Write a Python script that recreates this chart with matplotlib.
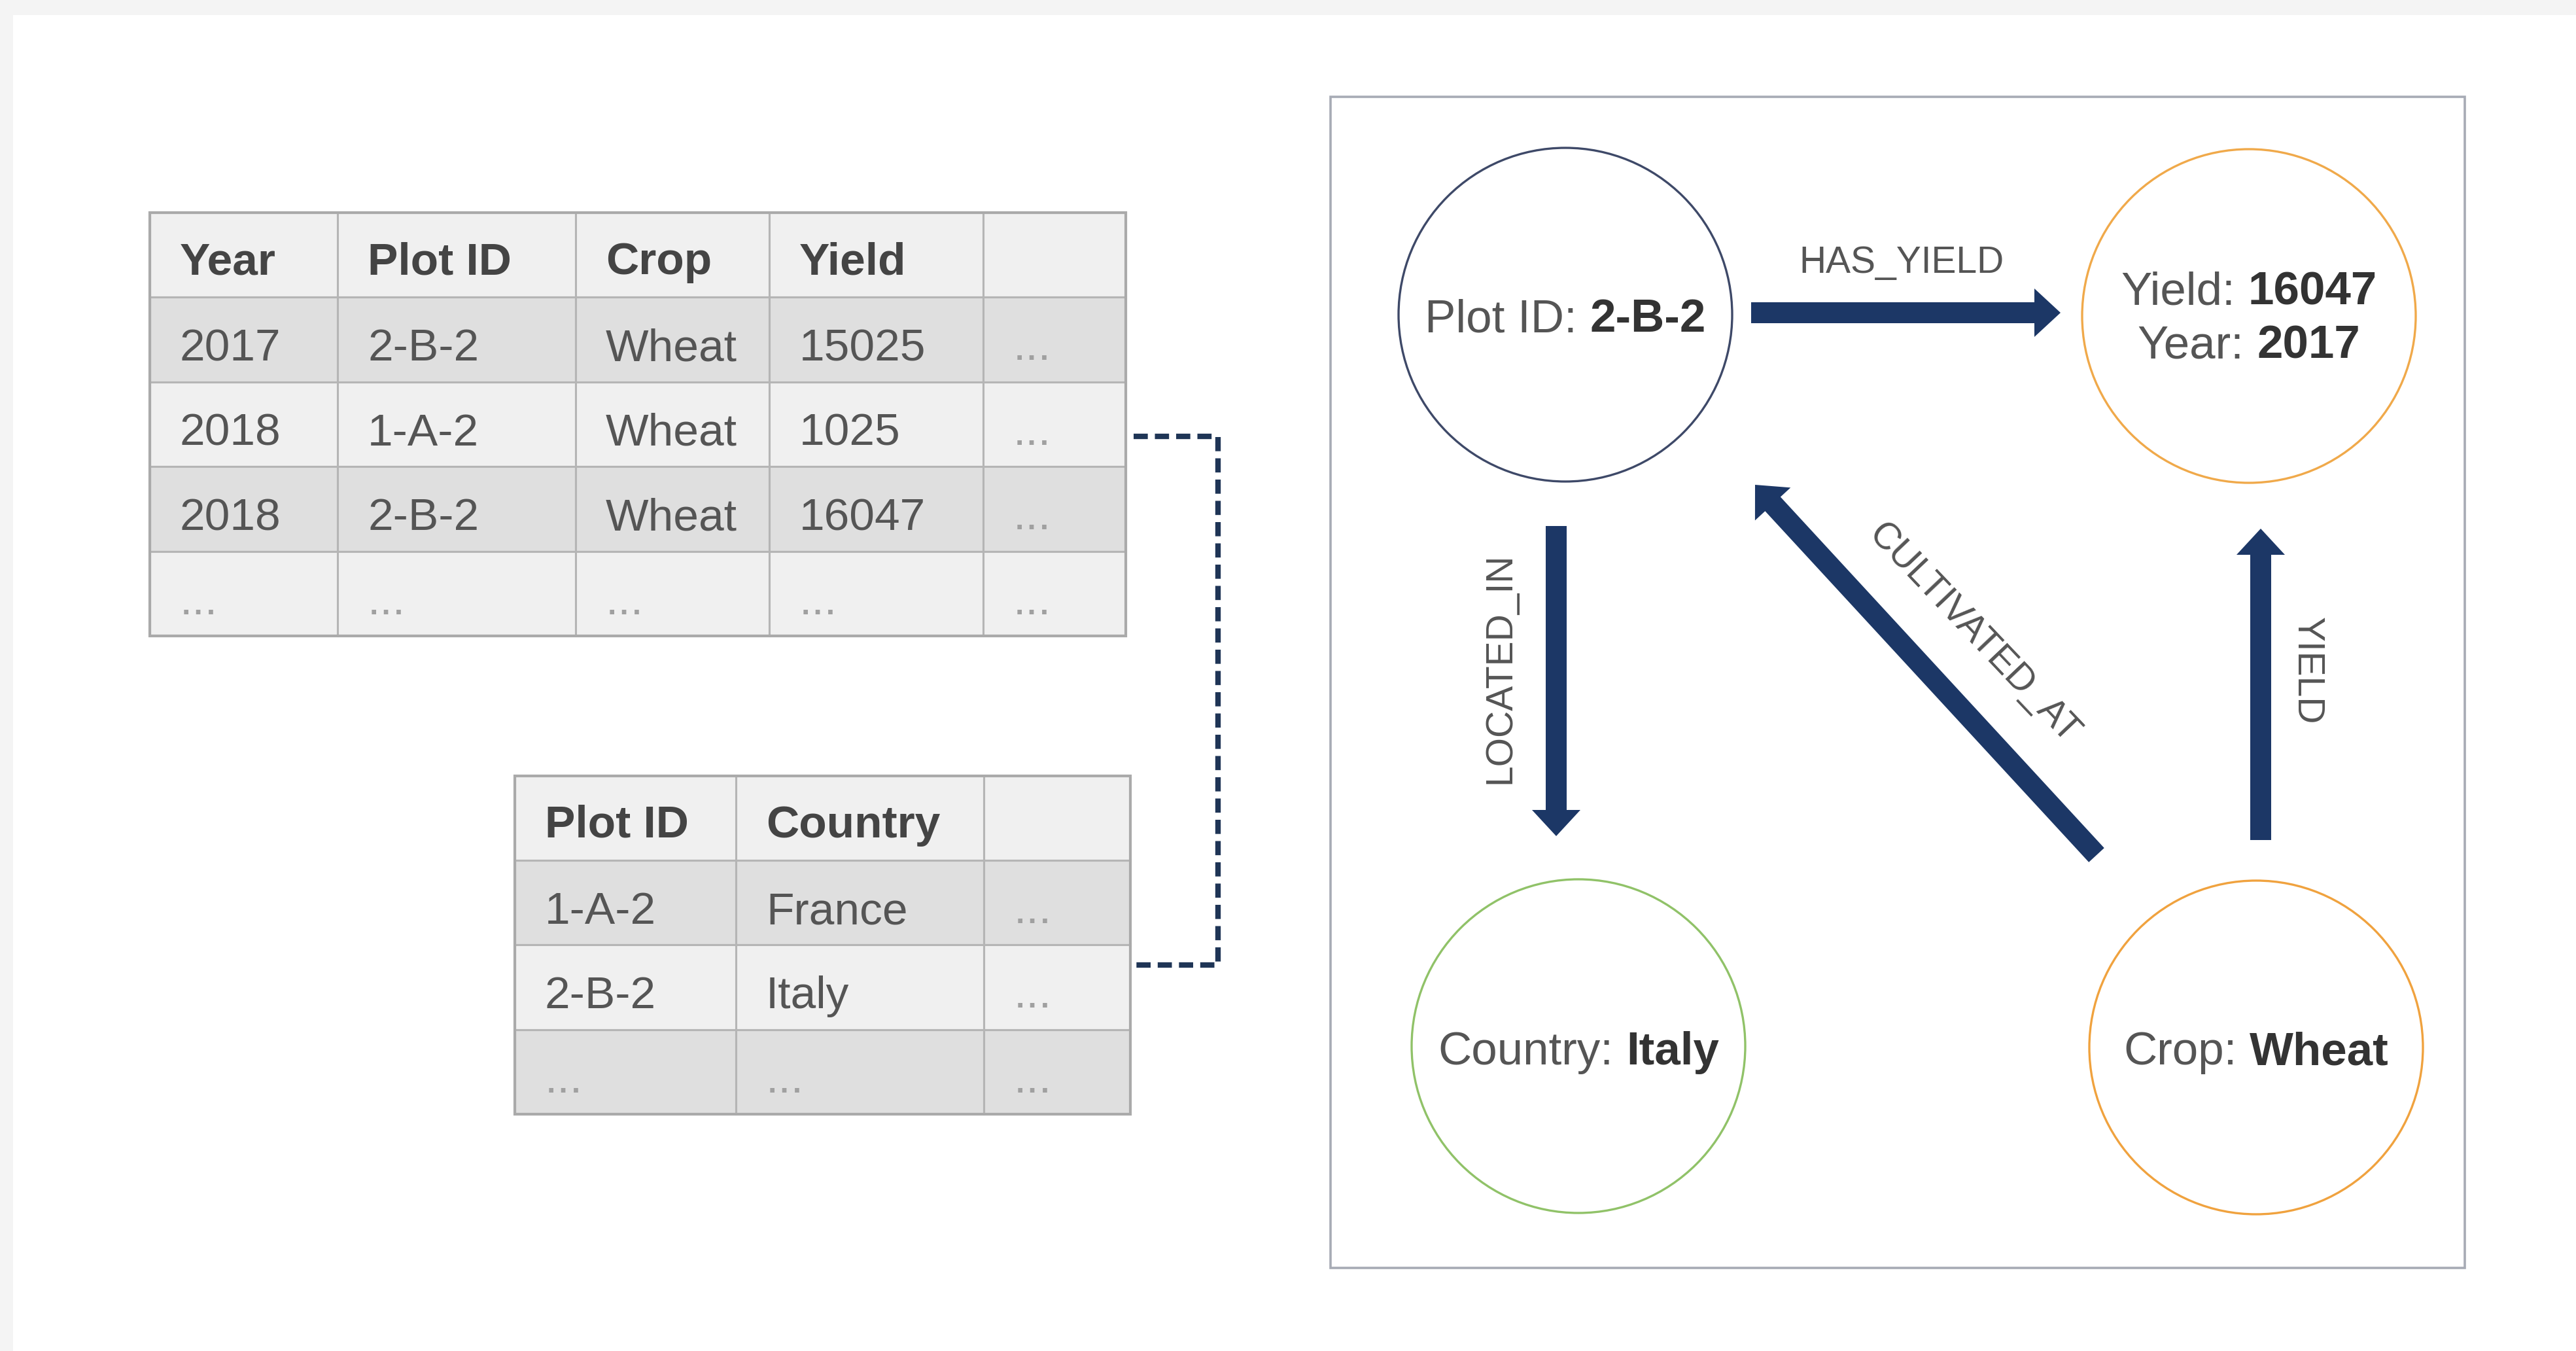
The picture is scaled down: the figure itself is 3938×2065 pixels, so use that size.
import matplotlib
matplotlib.use("Agg")
import matplotlib.pyplot as plt
from matplotlib.patches import Rectangle, Circle

plt.rcParams['font.family'] = ['Liberation Sans', 'DejaVu Sans']

# table contents
t1_cols = ["Year", "Plot ID", "Crop", "Yield", ""]
t1_rows = [["2017", "2-B-2", "Wheat", "15025", "..."],
           ["2018", "1-A-2", "Wheat", "1025", "..."],
           ["2018", "2-B-2", "Wheat", "16047", "..."],
           ["...", "...", "...", "...", "..."]]
t2_cols = ["Plot ID", "Country", ""]
t2_rows = [["1-A-2", "France", "..."],
           ["2-B-2", "Italy", "..."],
           ["...", "...", "..."]]

# graph nodes: (regular part, bold part) per line
node_plot = [("Plot ID:", "2-B-2")]
node_yield = [("Yield:", "16047"), ("Year:", "2017")]
node_country = [("Country:", "Italy")]
node_crop = [("Crop:", "Wheat")]
edge_labels = ["HAS_YIELD", "LOCATED_IN", "CULTIVATED_AT", "YIELD"]

W, H = 3938, 2065
fig = plt.figure(figsize=(W / 100, H / 100), dpi=100)
ax = fig.add_axes([0, 0, 1, 1])
ax.set_xlim(0, W)
ax.set_ylim(H, 0)
ax.axis('off')
renderer = fig.canvas.get_renderer()

# light grey frame on top and left
ax.add_patch(Rectangle((0, 0), W, 23, color='#f4f4f4', lw=0))
ax.add_patch(Rectangle((0, 0), 20, H, color='#f4f4f4', lw=0))

LIGHT = '#f0f0f0'
DARK = '#dfdfdf'
GRID = '#b5b5b5'


def draw_table(xedges, top, rowh, cols, rows, fills):
    allrows = [cols] + rows
    for r, row in enumerate(allrows):
        y0 = top + r * rowh
        for c, val in enumerate(row):
            x0 = xedges[c]
            ax.add_patch(Rectangle((x0, y0), xedges[c + 1] - x0, rowh,
                                   facecolor=fills[r], edgecolor=GRID, lw=2.2))
            if val == "...":
                ax.text(x0 + 46, y0 + 96, "...", fontsize=50, color='#a0a0a0',
                        ha='left', va='baseline')
            elif r == 0:
                ax.text(x0 + 46, y0 + 94, val, fontsize=50, color='#444444',
                        fontweight='bold', ha='left', va='baseline')
            else:
                ax.text(x0 + 46, y0 + 97, val, fontsize=50, color='#555555',
                        ha='left', va='baseline')
    ax.add_patch(Rectangle((xedges[0], top), xedges[-1] - xedges[0],
                           rowh * len(allrows), fill=False,
                           edgecolor='#aaaaaa', lw=3))


draw_table([229, 516, 880, 1176, 1503, 1721], 325, 129.4, t1_cols, t1_rows,
           [LIGHT, DARK, LIGHT, DARK, LIGHT])
draw_table([787, 1125, 1504, 1728], 1186, 129.2, t2_cols, t2_rows,
           [LIGHT, DARK, LIGHT, DARK])

# dashed join between the tables
ax.plot([1733, 1862, 1862, 1733], [667, 667, 1475, 1475], color='#1f3556',
        lw=6, linestyle=(0, (2.6, 1.3)), solid_capstyle='butt')

# graph panel
ax.add_patch(Rectangle((2034, 148), 3768 - 2034, 1938 - 148, fill=False,
                       edgecolor='#a7abb5', lw=2.6))


def node(cx, cy, color, lines, baselines, fs=51):
    ax.add_patch(Circle((cx, cy), 255, fill=False, edgecolor=color, lw=2.4))
    gap = 0.278 * fs * 100 / 72
    for (reg, bold), by in zip(lines, baselines):
        t1 = ax.text(0, by, reg, fontsize=fs, color='#555555',
                     ha='left', va='baseline')
        t2 = ax.text(0, by, bold, fontsize=fs, color='#333333',
                     fontweight='bold', ha='left', va='baseline')
        w1 = t1.get_window_extent(renderer).width
        w2 = t2.get_window_extent(renderer).width
        x = cx - (w1 + gap + w2) / 2
        t1.set_x(x)
        t2.set_x(x + w1 + gap)


node(2393, 481, '#3e4968', node_plot, [507])
node(3438, 483, '#f0a94a', node_yield, [465, 548])
node(2413, 1599, '#90c268', node_country, [1627])
node(3449, 1601, '#f0a23e', node_crop, [1627])

NAVY = '#1c3766'
arrows = [(2677, 478, 3150, 478),
          (2379, 804, 2379, 1278),
          (3205, 1307, 2683, 741),
          (3456, 1284, 3456, 808)]
for x0, y0, x1, y1 in arrows:
    ax.arrow(x0, y0, x1 - x0, y1 - y0, width=32, head_width=74,
             head_length=40, length_includes_head=True, color=NAVY, lw=0)

lab_pos = [(2907, 402, 0), (2293, 1021, 90), (3017, 968, -46.5), (3527, 1025, -90)]
for txt, (x, y, rot) in zip(edge_labels, lab_pos):
    ax.text(x, y, txt, fontsize=41, color='#555555', rotation=rot,
            rotation_mode='anchor', ha='center', va='center')

fig.savefig('out.png', dpi=100, facecolor='white')
